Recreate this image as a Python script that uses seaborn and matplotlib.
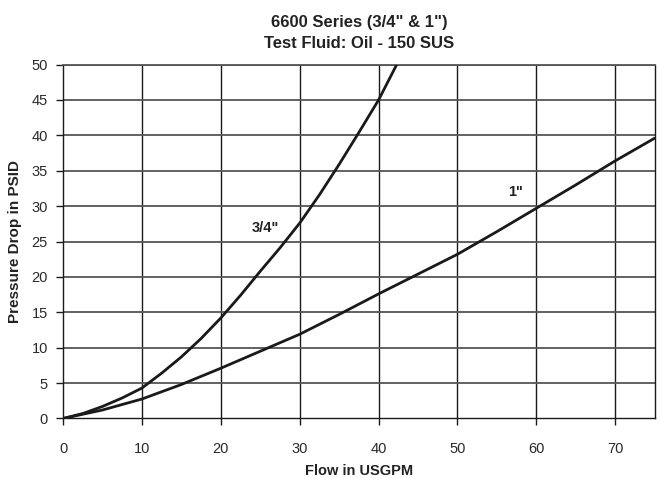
import numpy as np
import pandas as pd
import matplotlib
matplotlib.use("Agg")
import matplotlib.pyplot as plt
import seaborn as sns

# Valeurs
debit_34 = [0, 2.5, 5, 7.5, 10, 12.5, 15, 17.5, 20, 22.5, 25, 27.5, 30, 32.5, 35, 37.5, 40, 42.3]
perte_34 = [0, 0.7, 1.7, 2.9, 4.3, 6.4, 8.7, 11.3, 14.2, 17.4, 20.8, 24.1, 27.6, 31.6, 35.9, 40.4, 45.0, 50.0]

debit_1 = [0, 5, 10, 15, 20, 25, 30, 35, 40, 45, 50, 55, 60, 65, 70, 75]
perte_1 = [0, 1.2, 2.75, 4.8, 7.1, 9.5, 11.9, 14.7, 17.6, 20.4, 23.2, 26.4, 29.7, 33.0, 36.4, 39.6]

x_ticks = [0, 10, 20, 30, 40, 50, 60, 70]
y_ticks = [0, 5, 10, 15, 20, 25, 30, 35, 40, 45, 50]

titre = '6600 Series (3/4" & 1")\nTest Fluid: Oil - 150 SUS'

sns.set_theme(style="white")
plt.rcParams['font.family'] = ['Liberation Sans', 'DejaVu Sans']

df = pd.concat([
    pd.DataFrame({'Flow': debit_34, 'Pressure': perte_34, 'Taille': '3/4"'}),
    pd.DataFrame({'Flow': debit_1, 'Pressure': perte_1, 'Taille': '1"'}),
])

fig = plt.figure(figsize=(6.6, 4.78), dpi=100)
ax = fig.add_axes([0.0955, 0.1245, 0.8965, 0.7405])

# Grille
for x in x_ticks[1:]:
    ax.axvline(x, color='#1a1a1a', lw=1.0, zorder=1)
for y in y_ticks[1:]:
    ax.axhline(y, color='#555555', lw=1.3, zorder=1)

sns.lineplot(data=df, x='Flow', y='Pressure', units='Taille', estimator=None,
             color='#1a1a1a', lw=2.0, ax=ax, sort=False, zorder=3)
for ligne in ax.get_lines():
    ligne.set_solid_joinstyle('round')

ax.set_xlim(0, 75)
ax.set_ylim(0, 50)
ax.set_xticks(x_ticks)
ax.set_yticks(y_ticks)
ax.tick_params(axis='x', direction='out', length=5, width=1, color='#1a1a1a',
               pad=12, labelsize=10.5, labelcolor='#2a2a2a', bottom=True)
ax.tick_params(axis='y', direction='out', length=5, width=1, color='#1a1a1a',
               pad=6, labelsize=10.5, labelcolor='#2a2a2a', left=True)

for side in ['left', 'bottom', 'right']:
    ax.spines[side].set_color('#1a1a1a')
    ax.spines[side].set_linewidth(1.0)
ax.spines['top'].set_color('#555555')
ax.spines['top'].set_linewidth(1.3)

ax.set_xlabel('Flow in USGPM', fontsize=10.5, fontweight='bold', color='#222222', labelpad=6)
ax.set_ylabel('Pressure Drop in PSID', fontsize=11, fontweight='bold', color='#222222', labelpad=7)
ax.set_title(titre, fontsize=12, fontweight='bold', color='#222222', pad=12, linespacing=1.45)

ax.text(25.6, 26.9, '3/4"', fontsize=10.5, fontweight='bold', color='#222222',
        ha='center', va='center')
ax.text(57.3, 32.0, '1"', fontsize=10.5, fontweight='bold', color='#222222',
        ha='center', va='center')

fig.savefig('out.png', dpi=100)
